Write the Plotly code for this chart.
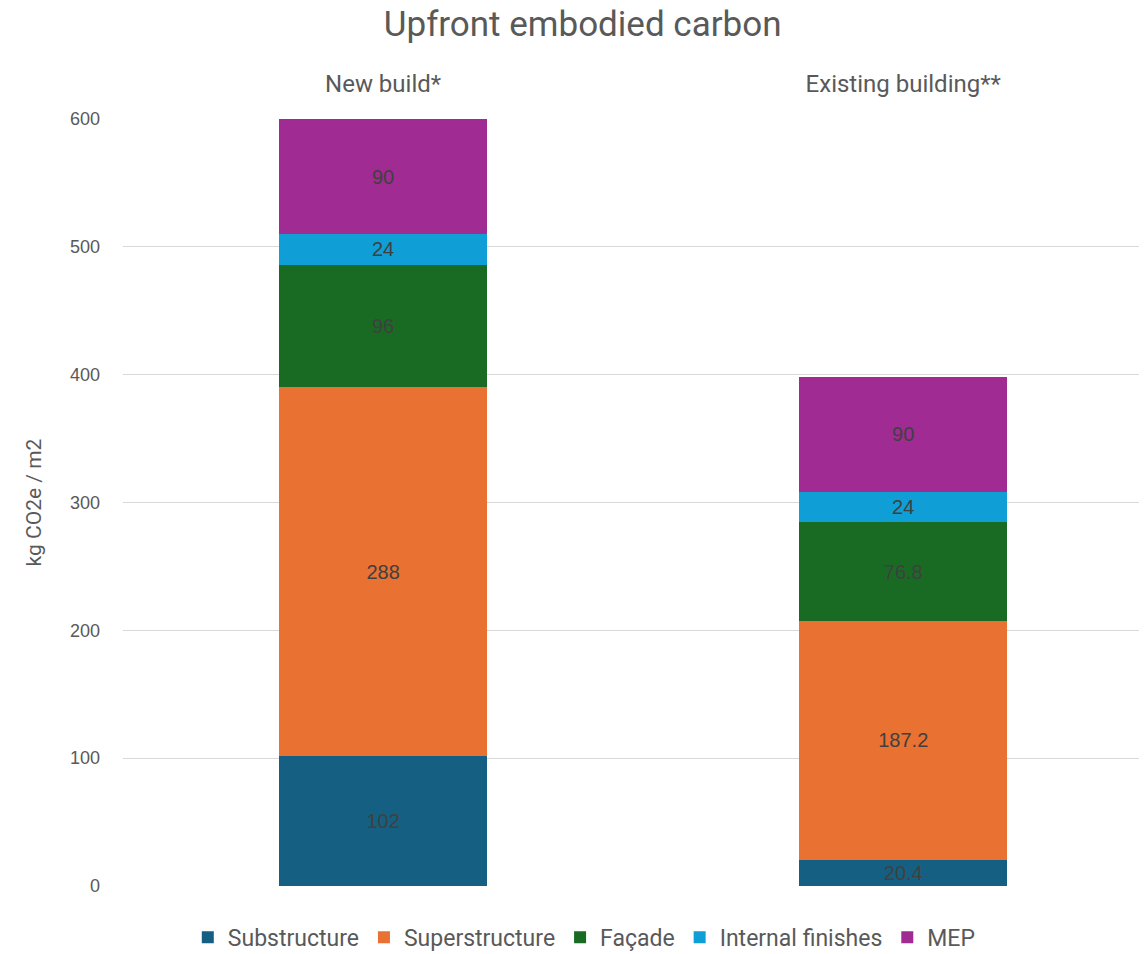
import plotly.graph_objects as go

categories = ["New build*", "Existing building**"]
series_names = ["Substructure", "Superstructure", "Façade", "Internal finishes", "MEP"]
substructure = [102, 20.4]
superstructure = [288, 187.2]
facade = [96, 76.8]
internal_finishes = [24, 24]
mep = [90, 90]
y_ticks = [0, 100, 200, 300, 400, 500, 600]

colors = ["#156082", "#E97132", "#196B24", "#0F9ED5", "#A02B93"]
values = [substructure, superstructure, facade, internal_finishes, mep]

NARROW = "Liberation Sans Narrow, Arial Narrow, Roboto, sans-serif"

fig = go.Figure()
for name, vals, col in zip(series_names, values, colors):
    fig.add_trace(go.Bar(
        x=[0, 1], y=vals, name=name, marker=dict(color=col, line=dict(width=0)),
        width=0.4,
        text=[f"{v:g}" for v in vals], textposition="inside", insidetextanchor="middle",
        textfont=dict(color="#404040", size=20, family="Liberation Sans, Arial, sans-serif"),
        constraintext="none",
    ))

fig.update_layout(
    barmode="stack",
    width=1147, height=954,
    paper_bgcolor="white", plot_bgcolor="white",
    margin=dict(l=115, r=0, t=111, b=76, autoexpand=False),
    title=dict(text="Upfront embodied carbon", x=0.501, xanchor="center", xref="container",
               y=0.983, yanchor="middle",
               font=dict(family=NARROW, size=35, color="#595959")),
    showlegend=True,
    legend=dict(orientation="h", x=0.447, xanchor="center", y=0.026, yref="container",
                yanchor="middle",
                font=dict(family=NARROW, size=23, color="#595959"),
                traceorder="normal", itemwidth=30),
    uniformtext=dict(minsize=8, mode="show"),
)
fig.update_xaxes(
    side="top", range=[-0.5, 1.484], tickmode="array", tickvals=[0, 1], ticktext=categories,
    tickfont=dict(family=NARROW, size=24, color="#595959"), showgrid=False,
    showline=False, zeroline=False, ticklen=0, ticklabelstandoff=21, automargin=False,
)
fig.update_yaxes(
    range=[0, 600], tickmode="array", tickvals=y_ticks,
    tickfont=dict(family="Liberation Sans, Arial, sans-serif", size=18, color="#595959"),
    showgrid=True, gridcolor="#d9d9d9", gridwidth=1, zeroline=False, showline=False,
    ticklabelstandoff=22, automargin=False,
    title=dict(text="kg CO2e / m2", font=dict(family=NARROW, size=21, color="#595959"), standoff=22),
)

fig.write_html("out.html")
